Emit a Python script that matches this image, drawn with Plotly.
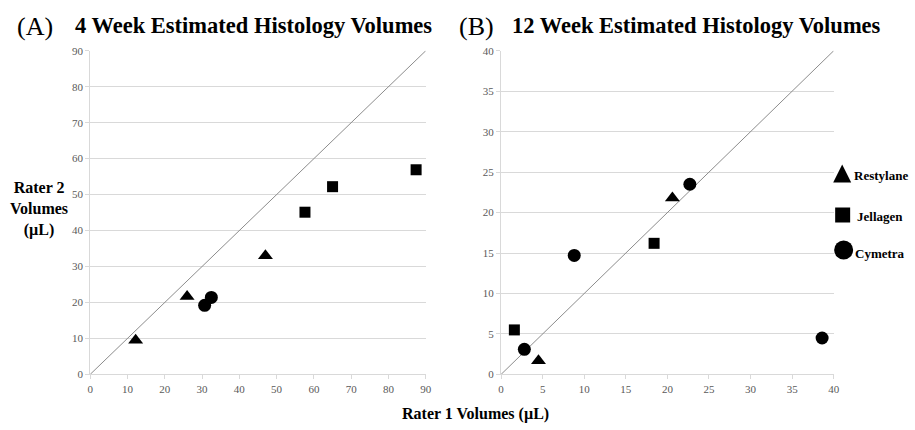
import plotly.graph_objects as go

# ---------------- data ----------------
series_names = ["Restylane", "Jellagen", "Cymetra"]

# 4 week (panel A)
wk4_restylane_x = [12.2, 26.0, 47.0]
wk4_restylane_y = [9.5, 21.7, 33.0]
wk4_jellagen_x = [57.6, 65.0, 87.4]
wk4_jellagen_y = [45.1, 52.2, 56.9]
wk4_cymetra_x = [30.7, 32.5]
wk4_cymetra_y = [19.2, 21.4]

# 12 week (panel B)
wk12_restylane_x = [4.5, 20.6]
wk12_restylane_y = [1.7, 21.8]
wk12_jellagen_x = [1.6, 18.4]
wk12_jellagen_y = [5.5, 16.2]
wk12_cymetra_x = [2.8, 8.8, 22.7, 38.6]
wk12_cymetra_y = [3.1, 14.7, 23.5, 4.5]

wk4_max = 90
wk12_max = 40
wk4_ticks = list(range(0, 91, 10))
wk12_ticks = list(range(0, 41, 5))

titleA = "4 Week Estimated Histology Volumes"
titleB = "12 Week Estimated Histology Volumes"
xlabel = "Rater 1 Volumes (µL)"
ylabel = "Rater 2<br>Volumes<br>(µL)"

# ---------------- styling ----------------
W, H = 915, 430
SERIF = "Liberation Serif"
symbols = {"Restylane": "triangle-up", "Jellagen": "square", "Cymetra": "circle"}
sizes = {"Restylane": 13, "Jellagen": 11, "Cymetra": 13}
GRID = "#d9d9d9"
TICKC = "#595959"

fig = go.Figure()

def add_panel(xa, ya, data, vmax):
    # identity line
    fig.add_trace(go.Scatter(x=[0, vmax], y=[0, vmax], mode="lines",
                             line=dict(color="#8c8c8c", width=1),
                             xaxis=xa, yaxis=ya, showlegend=False, hoverinfo="skip"))
    for name, (xs, ys) in zip(series_names, data):
        fig.add_trace(go.Scatter(x=xs, y=ys, mode="markers", name=name,
                                 marker=dict(symbol=symbols[name], size=sizes[name],
                                             color="black", line=dict(width=0)),
                                 xaxis=xa, yaxis=ya, showlegend=False, cliponaxis=False))

add_panel("x", "y", [(wk4_restylane_x, wk4_restylane_y),
                     (wk4_jellagen_x, wk4_jellagen_y),
                     (wk4_cymetra_x, wk4_cymetra_y)], wk4_max)
add_panel("x2", "y2", [(wk12_restylane_x, wk12_restylane_y),
                       (wk12_jellagen_x, wk12_jellagen_y),
                       (wk12_cymetra_x, wk12_cymetra_y)], wk12_max)

# custom legend on a pixel-space overlay axis
leg_marker_pos = {"Restylane": (847.5, 163), "Jellagen": (848, 215), "Cymetra": (849, 251)}
leg_symbols = {"Restylane": "arrow-up", "Jellagen": "square", "Cymetra": "circle"}
leg_sizes = {"Restylane": 18, "Jellagen": 15, "Cymetra": 19}
leg_text_pos = {"Restylane": (857, 174), "Jellagen": (860, 217), "Cymetra": (858, 255)}
for name in series_names:
    px, py = leg_marker_pos[name]
    fig.add_trace(go.Scatter(x=[px], y=[py], mode="markers",
                             marker=dict(symbol=leg_symbols[name], size=leg_sizes[name],
                                         color="black", line=dict(width=0)),
                             xaxis="x3", yaxis="y3", showlegend=False, hoverinfo="skip",
                             cliponaxis=False))
    tx, ty = leg_text_pos[name]
    fig.add_annotation(x=tx, y=ty, xref="x3", yref="y3", text="<b>%s</b>" % name,
                       showarrow=False, xanchor="left", yanchor="middle",
                       font=dict(family=SERIF, size=13, color="black"))

def px2x(p):
    return p / W

def px2y(p):
    return 1 - p / H

axis_common = dict(showline=True, linecolor=GRID, linewidth=1, ticks="outside",
                   ticklen=4, tickcolor=GRID, zeroline=False,
                   tickfont=dict(family=SERIF, size=11, color=TICKC))

fig.update_layout(
    width=W, height=H,
    margin=dict(l=0, r=0, t=0, b=0, pad=0),
    paper_bgcolor="white", plot_bgcolor="rgba(0,0,0,0)",
    showlegend=False,
    xaxis=dict(domain=[px2x(88), px2x(427)], range=[0, wk4_max], tickvals=wk4_ticks,
               showgrid=False, anchor="y", **axis_common),
    yaxis=dict(domain=[px2y(379), px2y(46)], range=[0, wk4_max], tickvals=wk4_ticks,
               showgrid=True, gridcolor=GRID, gridwidth=1, anchor="x", **axis_common),
    xaxis2=dict(domain=[px2x(503), px2x(839)], range=[0, wk12_max], tickvals=wk12_ticks,
                showgrid=False, anchor="y2", **axis_common),
    yaxis2=dict(domain=[px2y(379), px2y(46)], range=[0, wk12_max], tickvals=wk12_ticks,
                showgrid=True, gridcolor=GRID, gridwidth=1, anchor="x2", **axis_common),
    xaxis3=dict(domain=[0, 1], range=[0, W], visible=False, anchor="y3", fixedrange=True),
    yaxis3=dict(domain=[0, 1], range=[H, 0], visible=False, anchor="x3", fixedrange=True),
)

ann_font_b = dict(family=SERIF, size=22.5, color="black")
fig.add_annotation(x=px2x(12), y=px2y(21), xref="paper", yref="paper", text="(A)",
                   showarrow=False, xanchor="left", yanchor="middle",
                   font=dict(family=SERIF, size=26, color="black"))
fig.add_annotation(x=px2x(71), y=px2y(20), xref="paper", yref="paper",
                   text="<b>%s</b>" % titleA, showarrow=False, xanchor="left",
                   yanchor="middle", font=ann_font_b)
fig.add_annotation(x=px2x(459), y=px2y(21), xref="paper", yref="paper", text="(B)",
                   showarrow=False, xanchor="left", yanchor="middle",
                   font=dict(family=SERIF, size=26, color="black"))
fig.add_annotation(x=px2x(512), y=px2y(20), xref="paper", yref="paper",
                   text="<b>%s</b>" % titleB, showarrow=False, xanchor="left",
                   yanchor="middle", font=ann_font_b)
fig.add_annotation(x=px2x(477), y=px2y(420), xref="paper", yref="paper",
                   text="<b>%s</b>" % xlabel, showarrow=False, xanchor="center",
                   yanchor="middle", font=dict(family=SERIF, size=16, color="black"))
fig.add_annotation(x=px2x(36), y=px2y(209), xref="paper", yref="paper",
                   text="<b>%s</b>" % ylabel, showarrow=False, xanchor="center",
                   yanchor="middle", align="center",
                   font=dict(family=SERIF, size=16, color="black"))

css_fix = ("var s=document.createElement('style');"
           "s.textContent='html,body{margin:0!important;padding:0!important;overflow:hidden!important;}';"
           "document.head.appendChild(s);")
fig.write_html("out.html", config={"displayModeBar": False}, post_script=css_fix)
